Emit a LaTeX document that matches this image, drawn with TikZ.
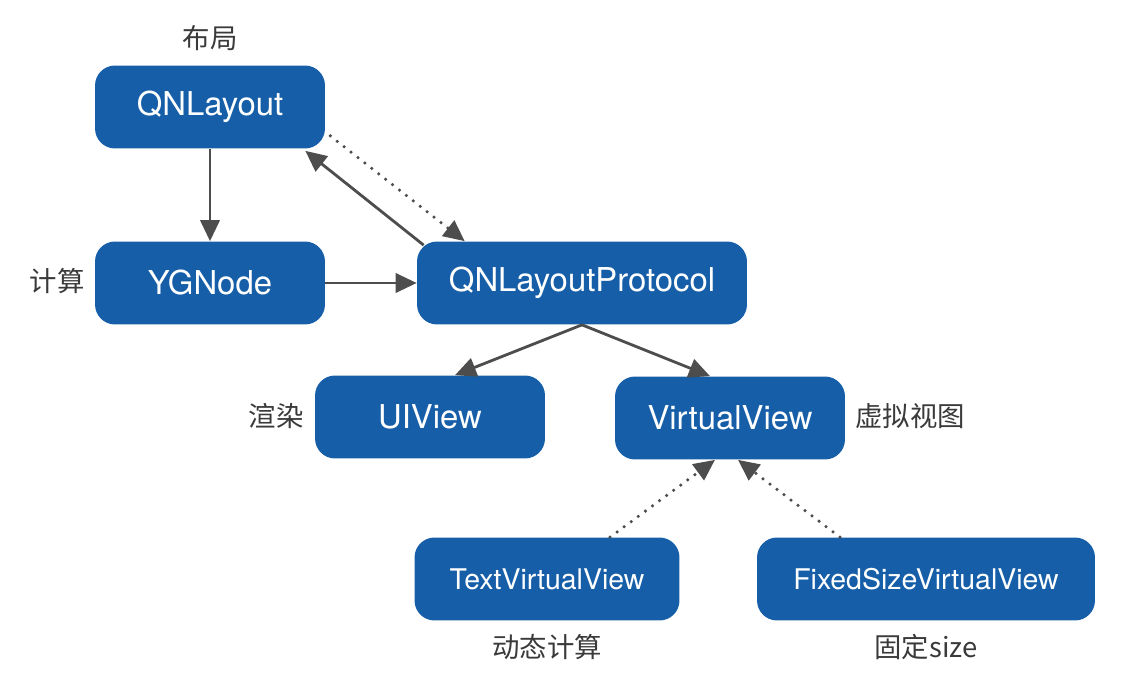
\documentclass[tikz,border=0pt]{standalone}
\usepackage{fontspec}
\usepackage{tikz}
\usetikzlibrary{arrows.meta}
\newfontfamily\boxfont{TeX Gyre Heros}
\newfontfamily\cjk{Noto Sans CJK SC}
\definecolor{boxblue}{HTML}{165FA8}
\definecolor{linegray}{HTML}{4D4D4D}
\definecolor{labelgray}{HTML}{3A3A3A}

\begin{document}
\begin{tikzpicture}[x=0.02cm,y=-0.02cm,
  blk/.style={fill=boxblue,text=white,rounded corners=0.4cm,minimum width=4.6cm,
    minimum height=1.66cm,font=\boxfont\fontsize{18.7}{20}\selectfont},
  smallblk/.style={blk,font=\boxfont\fontsize{16.2}{18}\selectfont},
  note/.style={text=labelgray,font=\cjk\fontsize{15.6}{18}\selectfont},
  arr/.style={draw=linegray,line width=1.6pt,-{Triangle[length=12pt,width=11pt]}},
  dotarr/.style={arr,line width=2pt,line cap=round,dash pattern=on 0pt off 5pt}]
\useasboundingbox (0,0) rectangle (1142,692);
\node[blk] (layout) at (210,107) {QNLayout};
\node[blk] (ygnode) at (210,283) {YGNode};
\node[blk,minimum width=6.6cm] (proto) at (582,283) {QNLayoutProtocol};
\node[blk] (uiview) at (430,417) {UIView};
\node[blk] (virtual) at (730,418) {VirtualView};
\node[smallblk,minimum width=5.3cm] (textvv) at (547,579) {TextVirtualView};
\node[smallblk,minimum width=6.76cm] (fixedvv) at (926,579) {FixedSizeVirtualView};
% labels
\node[note] (lbuju) at (210,38) {布局};
\node[note] (ljisuan) at (57,281) {计算};
\node[note] (lxuanran) at (276,416) {渲染};
\node[note] (lxuni) at (910,416) {虚拟视图};
\node[note] (ldongtai) at (547,647) {动态计算};
\node[note] (lguding) at (926,647) {固定size};
% connectors
\draw[arr] (layout) -- (ygnode);
\draw[arr] (ygnode) -- (proto);
\draw[arr] ([shift={(7,4)}]proto.north west) -- ([shift={(-20,2)}]layout.south east);
\draw[dotarr] ([shift={(5,-13)}]layout.south east) -- ([shift={(48,0)}]proto.north west);
\draw[arr] (proto.south) -- ([shift={(25,0)}]uiview.north);
\draw[arr] (proto.south) -- ([shift={(-20,0)}]virtual.north);
\draw[dotarr] ([shift={(63,0)}]textvv.north) -- ([shift={(-15,0)}]virtual.south);
\draw[dotarr] ([shift={(-86,0)}]fixedvv.north) -- ([shift={(8,0)}]virtual.south);
\end{tikzpicture}
\end{document}
